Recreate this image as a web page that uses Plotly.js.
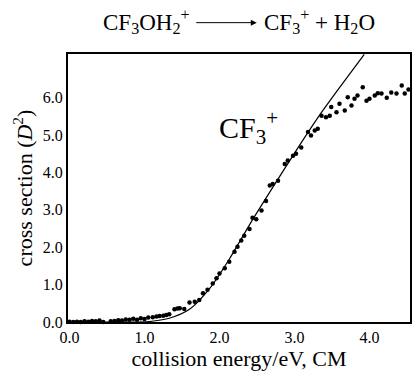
<!DOCTYPE html>
<html>
<head>
<meta charset="utf-8">
<script src="https://cdn.plot.ly/plotly-3.0.1.min.js"></script>
<style>html,body{margin:0;padding:0;background:#fff;}#chart{width:412px;height:375px;}</style>
</head>
<body>
<div id="chart"></div>
<script>
// Measured CF3+ cross section (collision energy eV, CM ; cross section D^2)
var energy = [0.00,0.05,0.10,0.15,0.20,0.25,0.30,0.35,0.40,0.45,0.50,0.55,0.60,0.65,0.70,0.75,0.80,0.85,0.90,0.95,1.00,1.05,1.11,1.16,1.20,1.25,1.29,1.33,1.40,1.44,1.47,1.53,1.60,1.67,1.73,1.78,1.84,1.91,1.96,2.00,2.07,2.13,2.20,2.24,2.29,2.33,2.40,2.44,2.49,2.56,2.62,2.67,2.71,2.78,2.87,2.91,2.98,3.02,3.09,3.18,3.22,3.27,3.31,3.36,3.42,3.47,3.49,3.56,3.60,3.67,3.71,3.76,3.80,3.84,3.91,3.96,4.00,4.07,4.11,4.16,4.23,4.29,4.36,4.43,4.47,4.52];
var crossSection = [0.01,0.00,0.01,0.00,0.02,0.01,0.03,0.02,0.04,0.00,-0.02,0.02,0.03,0.05,0.04,0.07,0.06,0.09,0.06,0.10,0.08,0.12,0.13,0.15,0.16,0.17,0.19,0.21,0.34,0.36,0.37,0.35,0.52,0.54,0.59,0.77,0.86,1.03,1.17,1.30,1.44,1.61,1.88,2.01,2.18,2.31,2.49,2.79,2.75,2.98,3.24,3.65,3.69,3.78,4.23,4.32,4.45,4.50,4.67,5.08,4.99,5.12,5.17,5.52,5.48,5.52,5.75,5.61,5.84,5.66,6.01,5.79,5.97,6.06,6.28,5.92,5.97,6.06,6.12,6.11,6.00,6.14,6.11,6.33,6.11,6.22];
// Model fit curve
var fitEnergy = [0.00,0.50,0.90,1.10,1.33,1.60,1.87,2.13,2.40,2.71,3.02,3.33,3.63,3.93];
var fitCross  = [0.00,0.00,0.00,0.02,0.10,0.34,0.90,1.68,2.60,3.60,4.58,5.52,6.35,7.16];
var yTickVals = [0,1,2,3,4,5,6];
var yTickText = ["0.0","1.0","2.0","3.0","4.0","5.0","6.0"];
var xTickVals = [0,1,2,3,4];
var xTickText = ["0.0","1.0","2.0","3.0","4.0"];

var serif = "Liberation Serif, Times New Roman, serif";

var traces = [
  {x: fitEnergy, y: fitCross, type: "scatter", mode: "lines",
   line: {color: "#000", width: 1.2, shape: "spline", smoothing: 0.7},
   hoverinfo: "skip", showlegend: false},
  {x: energy, y: crossSection, type: "scatter", mode: "markers",
   marker: {color: "#000", size: 4.5}, cliponaxis: false, showlegend: false}
];

var layout = {
  width: 412, height: 375,
  margin: {l: 68, r: 2, t: 54, b: 53},
  paper_bgcolor: "#fff", plot_bgcolor: "#fff",
  font: {family: serif, color: "#000", size: 16},
  showlegend: false,
  xaxis: {
    range: [-0.02, 4.54], tickvals: xTickVals, ticktext: xTickText,
    showgrid: false, zeroline: false, showline: true, mirror: true,
    linecolor: "#000", linewidth: 2, ticks: "",
    tickfont: {family: serif, size: 16},
    title: {text: "collision energy/eV, CM", font: {family: serif, size: 22}, standoff: 4}
  },
  yaxis: {
    range: [0, 7.17], tickvals: yTickVals, ticktext: yTickText,
    showgrid: false, zeroline: false, showline: true, mirror: true,
    linecolor: "#000", linewidth: 2, ticks: "",
    tickfont: {family: serif, size: 16},
    title: {text: "cross section (<i>D</i><sup>2</sup>)", font: {family: serif, size: 22}, standoff: 4}
  },
  annotations: [
    {xref: "paper", yref: "paper", x: 0.362, y: 1.12, xanchor: "right", yanchor: "middle",
     text: "CF<sub>3</sub>OH<sub>2</sub><sup>+</sup>", showarrow: false,
     font: {family: serif, size: 23}},
    {xref: "paper", yref: "paper", x: 0.552, y: 1.117, text: "", showarrow: true,
     axref: "pixel", ayref: "pixel", ax: -62, ay: 0, arrowhead: 2, arrowsize: 1.2,
     arrowwidth: 1, arrowcolor: "#000"},
    {xref: "paper", yref: "paper", x: 0.566, y: 1.12, xanchor: "left", yanchor: "middle",
     text: "CF<sub>3</sub><sup>+</sup> + H<sub>2</sub>O", showarrow: false,
     font: {family: serif, size: 23}},
    {xref: "x", yref: "y", x: 1.97, y: 5.2, xanchor: "left", yanchor: "middle",
     text: "CF<sub>3</sub><sup>+</sup>", showarrow: false,
     font: {family: serif, size: 30}}
  ]
};

Plotly.newPlot("chart", traces, layout, {displayModeBar: false});
</script>
</body>
</html>
